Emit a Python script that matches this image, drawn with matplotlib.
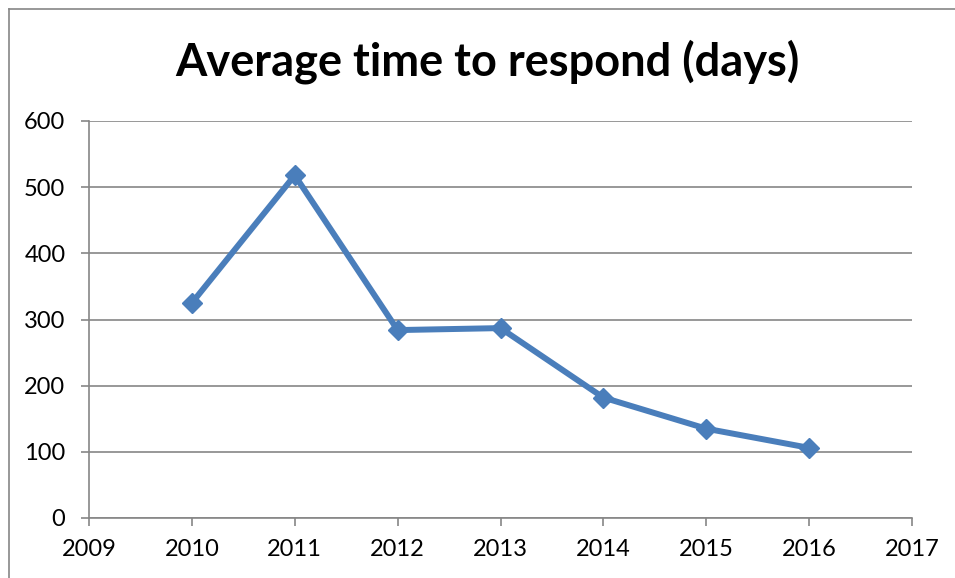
import matplotlib
matplotlib.use("Agg")
import matplotlib.pyplot as plt
from matplotlib.lines import Line2D

plt.rcParams['font.family'] = ['Lato', 'DejaVu Sans']

years = [2010, 2011, 2012, 2013, 2014, 2015, 2016]
avg_days = [325, 518, 284, 287, 182, 135, 106]
x_ticks = [2009, 2010, 2011, 2012, 2013, 2014, 2015, 2016, 2017]
y_ticks = [0, 100, 200, 300, 400, 500, 600]

line_color = '#4a7ebb'
grid_color = '#868686'

fig = plt.figure(figsize=(9.55, 5.78), dpi=100)
ax = fig.add_axes([89 / 955, 1 - 518 / 578, (912 - 89) / 955, (518 - 121) / 578])

ax.plot(years, avg_days, color=line_color, linewidth=4.3, marker='D',
        markersize=10.5, markerfacecolor=line_color, markeredgecolor=line_color,
        solid_joinstyle='round', clip_on=False, zorder=3)

ax.set_xlim(2009, 2017)
ax.set_ylim(0, 600)
ax.set_xticks(x_ticks)
ax.set_yticks(y_ticks)
ax.set_xticklabels([str(v) for v in x_ticks])
ax.set_yticklabels([str(v) for v in y_ticks])

ax.yaxis.grid(True, color=grid_color, linewidth=1.2)
ax.set_axisbelow(True)
for side in ('top', 'right'):
    ax.spines[side].set_visible(False)
for side in ('left', 'bottom'):
    ax.spines[side].set_color(grid_color)
    ax.spines[side].set_linewidth(1.2)

ax.tick_params(axis='both', colors=grid_color, labelcolor='black',
               labelsize=17, direction='out', length=6, width=1.2)
ax.tick_params(axis='y', pad=11)
ax.tick_params(axis='x', pad=9)

fig.text(487 / 955, 1 - 62 / 578, 'Average time to respond (days)',
         ha='center', va='center', fontsize=32.5, fontweight='bold')

# Chart area frame
fig.add_artist(Line2D([8.5 / 955, 8.5 / 955], [0, 1 - 9 / 578],
                      transform=fig.transFigure, color=grid_color, linewidth=1.2))
fig.add_artist(Line2D([8.5 / 955, 1], [1 - 9 / 578, 1 - 9 / 578],
                      transform=fig.transFigure, color=grid_color, linewidth=1.2))

fig.savefig('out.png', dpi=100)
